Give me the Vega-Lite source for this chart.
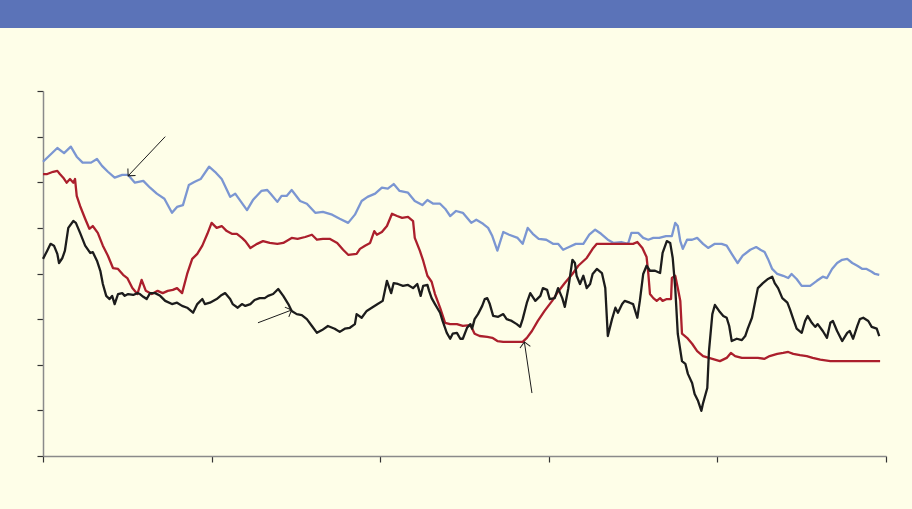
{
  "$schema": "https://vega.github.io/schema/vega-lite/v6.json",
  "background": "#fefee8",
  "padding": {"left": 0, "top": 0, "right": 0, "bottom": 47},
  "config": {"view": {"stroke": null}},
  "spacing": 62,
  "datasets": {
    "lines": [
      {"s":"A","x":0,"y":6.45},{"s":"A","x":1.7,"y":6.75},{"s":"A","x":2.5,"y":6.64},{"s":"A","x":3.3,"y":6.78},{"s":"A","x":4.0,"y":6.56},{"s":"A","x":4.7,"y":6.43},{"s":"A","x":5.7,"y":6.43},{"s":"A","x":6.4,"y":6.51},{"s":"A","x":7.0,"y":6.36},{"s":"A","x":7.7,"y":6.23},{"s":"A","x":8.5,"y":6.10},{"s":"A","x":9.4,"y":6.16},{"s":"A","x":10.1,"y":6.16},{"s":"A","x":10.9,"y":5.99},{"s":"A","x":11.9,"y":6.03},{"s":"A","x":12.7,"y":5.88},{"s":"A","x":13.5,"y":5.75},{"s":"A","x":14.4,"y":5.64},{"s":"A","x":15.3,"y":5.33},{"s":"A","x":15.9,"y":5.46},{"s":"A","x":16.6,"y":5.50},{"s":"A","x":17.3,"y":5.94},{"s":"A","x":18.0,"y":6.01},{"s":"A","x":18.7,"y":6.07},{"s":"A","x":19.7,"y":6.34},{"s":"A","x":20.4,"y":6.23},{"s":"A","x":21.2,"y":6.07},{"s":"A","x":22.2,"y":5.68},{"s":"A","x":22.8,"y":5.75},{"s":"A","x":23.5,"y":5.57},{"s":"A","x":24.2,"y":5.39},{"s":"A","x":24.9,"y":5.61},{"s":"A","x":25.9,"y":5.81},{"s":"A","x":26.6,"y":5.83},{"s":"A","x":27.0,"y":5.75},{"s":"A","x":27.8,"y":5.57},{"s":"A","x":28.3,"y":5.70},{"s":"A","x":28.9,"y":5.70},{"s":"A","x":29.5,"y":5.83},{"s":"A","x":30.5,"y":5.59},{"s":"A","x":31.3,"y":5.53},{"s":"A","x":32.3,"y":5.33},{"s":"A","x":33.2,"y":5.35},{"s":"A","x":34.3,"y":5.29},{"s":"A","x":35.2,"y":5.20},{"s":"A","x":36.2,"y":5.11},{"s":"A","x":37.0,"y":5.29},{"s":"A","x":37.8,"y":5.59},{"s":"A","x":38.5,"y":5.68},{"s":"A","x":39.4,"y":5.75},{"s":"A","x":40.2,"y":5.88},{"s":"A","x":40.9,"y":5.86},{"s":"A","x":41.6,"y":5.96},{"s":"A","x":42.3,"y":5.81},{"s":"A","x":43.3,"y":5.77},{"s":"A","x":44.1,"y":5.59},{"s":"A","x":45.0,"y":5.50},{"s":"A","x":45.6,"y":5.61},{"s":"A","x":46.3,"y":5.53},{"s":"A","x":47.1,"y":5.53},{"s":"A","x":47.7,"y":5.42},{"s":"A","x":48.3,"y":5.26},{"s":"A","x":49.0,"y":5.37},{"s":"A","x":49.8,"y":5.33},{"s":"A","x":50.8,"y":5.11},{"s":"A","x":51.4,"y":5.18},{"s":"A","x":52.2,"y":5.09},{"s":"A","x":52.8,"y":5.00},{"s":"A","x":53.3,"y":4.82},{"s":"A","x":53.9,"y":4.50},{"s":"A","x":54.6,"y":4.91},{"s":"A","x":55.3,"y":4.85},{"s":"A","x":56.3,"y":4.78},{"s":"A","x":56.9,"y":4.65},{"s":"A","x":57.5,"y":5.00},{"s":"A","x":58.1,"y":4.87},{"s":"A","x":58.8,"y":4.76},{"s":"A","x":59.7,"y":4.74},{"s":"A","x":60.5,"y":4.65},{"s":"A","x":61.1,"y":4.65},{"s":"A","x":61.7,"y":4.52},{"s":"A","x":62.4,"y":4.58},{"s":"A","x":63.2,"y":4.65},{"s":"A","x":64.1,"y":4.65},{"s":"A","x":64.8,"y":4.85},{"s":"A","x":65.5,"y":4.96},{"s":"A","x":66.2,"y":4.87},{"s":"A","x":67.0,"y":4.74},{"s":"A","x":67.7,"y":4.67},{"s":"A","x":68.6,"y":4.69},{"s":"A","x":69.4,"y":4.65},{"s":"A","x":69.8,"y":4.89},{"s":"A","x":70.6,"y":4.89},{"s":"A","x":71.2,"y":4.78},{"s":"A","x":71.8,"y":4.74},{"s":"A","x":72.4,"y":4.78},{"s":"A","x":73.1,"y":4.78},{"s":"A","x":73.9,"y":4.82},{"s":"A","x":74.6,"y":4.82},{"s":"A","x":75.0,"y":5.11},{"s":"A","x":75.3,"y":5.04},{"s":"A","x":75.6,"y":4.71},{"s":"A","x":75.9,"y":4.54},{"s":"A","x":76.4,"y":4.74},{"s":"A","x":77.0,"y":4.74},{"s":"A","x":77.6,"y":4.78},{"s":"A","x":78.3,"y":4.65},{"s":"A","x":78.9,"y":4.56},{"s":"A","x":79.7,"y":4.65},{"s":"A","x":80.5,"y":4.65},{"s":"A","x":81.1,"y":4.61},{"s":"A","x":81.7,"y":4.43},{"s":"A","x":82.4,"y":4.23},{"s":"A","x":83.0,"y":4.39},{"s":"A","x":83.9,"y":4.52},{"s":"A","x":84.6,"y":4.58},{"s":"A","x":85.1,"y":4.52},{"s":"A","x":85.6,"y":4.47},{"s":"A","x":86.0,"y":4.32},{"s":"A","x":86.5,"y":4.10},{"s":"A","x":87.1,"y":3.99},{"s":"A","x":87.8,"y":3.95},{"s":"A","x":88.4,"y":3.90},{"s":"A","x":88.8,"y":3.99},{"s":"A","x":89.4,"y":3.88},{"s":"A","x":90.0,"y":3.73},{"s":"A","x":91.0,"y":3.73},{"s":"A","x":91.8,"y":3.84},{"s":"A","x":92.5,"y":3.93},{"s":"A","x":93.0,"y":3.90},{"s":"A","x":93.6,"y":4.10},{"s":"A","x":94.2,"y":4.23},{"s":"A","x":94.8,"y":4.30},{"s":"A","x":95.4,"y":4.32},{"s":"A","x":96.0,"y":4.23},{"s":"A","x":96.6,"y":4.17},{"s":"A","x":97.2,"y":4.10},{"s":"A","x":97.7,"y":4.10},{"s":"A","x":98.3,"y":4.04},{"s":"A","x":98.7,"y":3.99},{"s":"A","x":99.2,"y":3.97},
      {"s":"B","x":0,"y":6.18},{"s":"B","x":0.5,"y":6.18},{"s":"B","x":1.2,"y":6.23},{"s":"B","x":1.7,"y":6.25},{"s":"B","x":2.0,"y":6.18},{"s":"B","x":2.4,"y":6.10},{"s":"B","x":2.8,"y":5.99},{"s":"B","x":3.2,"y":6.07},{"s":"B","x":3.6,"y":5.99},{"s":"B","x":3.8,"y":6.07},{"s":"B","x":4.0,"y":5.70},{"s":"B","x":4.4,"y":5.48},{"s":"B","x":5.0,"y":5.20},{"s":"B","x":5.5,"y":4.98},{"s":"B","x":5.9,"y":5.04},{"s":"B","x":6.5,"y":4.89},{"s":"B","x":7.1,"y":4.61},{"s":"B","x":7.7,"y":4.39},{"s":"B","x":8.3,"y":4.12},{"s":"B","x":8.9,"y":4.10},{"s":"B","x":9.5,"y":3.97},{"s":"B","x":10.0,"y":3.90},{"s":"B","x":10.6,"y":3.68},{"s":"B","x":11.2,"y":3.55},{"s":"B","x":11.7,"y":3.86},{"s":"B","x":12.2,"y":3.62},{"s":"B","x":12.9,"y":3.55},{"s":"B","x":13.6,"y":3.62},{"s":"B","x":14.2,"y":3.57},{"s":"B","x":14.8,"y":3.62},{"s":"B","x":15.4,"y":3.64},{"s":"B","x":15.9,"y":3.68},{"s":"B","x":16.5,"y":3.57},{"s":"B","x":17.1,"y":3.99},{"s":"B","x":17.7,"y":4.32},{"s":"B","x":18.3,"y":4.43},{"s":"B","x":18.9,"y":4.61},{"s":"B","x":19.5,"y":4.87},{"s":"B","x":20.0,"y":5.11},{"s":"B","x":20.6,"y":5.00},{"s":"B","x":21.2,"y":5.04},{"s":"B","x":21.8,"y":4.93},{"s":"B","x":22.4,"y":4.87},{"s":"B","x":23.0,"y":4.87},{"s":"B","x":23.6,"y":4.78},{"s":"B","x":24.0,"y":4.71},{"s":"B","x":24.6,"y":4.56},{"s":"B","x":25.4,"y":4.65},{"s":"B","x":26.1,"y":4.71},{"s":"B","x":26.9,"y":4.67},{"s":"B","x":27.8,"y":4.65},{"s":"B","x":28.5,"y":4.67},{"s":"B","x":29.5,"y":4.78},{"s":"B","x":30.2,"y":4.76},{"s":"B","x":31.1,"y":4.80},{"s":"B","x":31.9,"y":4.85},{"s":"B","x":32.5,"y":4.74},{"s":"B","x":33.2,"y":4.76},{"s":"B","x":34.0,"y":4.76},{"s":"B","x":34.9,"y":4.67},{"s":"B","x":35.6,"y":4.52},{"s":"B","x":36.2,"y":4.41},{"s":"B","x":37.2,"y":4.43},{"s":"B","x":37.6,"y":4.54},{"s":"B","x":38.2,"y":4.61},{"s":"B","x":38.8,"y":4.67},{"s":"B","x":39.3,"y":4.93},{"s":"B","x":39.6,"y":4.85},{"s":"B","x":40.2,"y":4.91},{"s":"B","x":40.8,"y":5.04},{"s":"B","x":41.4,"y":5.31},{"s":"B","x":42.0,"y":5.26},{"s":"B","x":42.6,"y":5.22},{"s":"B","x":43.3,"y":5.24},{"s":"B","x":43.9,"y":5.15},{"s":"B","x":44.1,"y":4.78},{"s":"B","x":44.7,"y":4.50},{"s":"B","x":45.1,"y":4.28},{"s":"B","x":45.6,"y":3.95},{"s":"B","x":46.1,"y":3.82},{"s":"B","x":46.5,"y":3.55},{"s":"B","x":47.1,"y":3.25},{"s":"B","x":47.7,"y":2.92},{"s":"B","x":48.3,"y":2.89},{"s":"B","x":49.1,"y":2.89},{"s":"B","x":49.8,"y":2.85},{"s":"B","x":50.7,"y":2.87},{"s":"B","x":51.2,"y":2.68},{"s":"B","x":51.8,"y":2.63},{"s":"B","x":52.7,"y":2.61},{"s":"B","x":53.3,"y":2.59},{"s":"B","x":53.9,"y":2.52},{"s":"B","x":54.6,"y":2.50},{"s":"B","x":55.8,"y":2.50},{"s":"B","x":56.9,"y":2.50},{"s":"B","x":57.4,"y":2.59},{"s":"B","x":58.0,"y":2.74},{"s":"B","x":58.7,"y":2.96},{"s":"B","x":59.5,"y":3.18},{"s":"B","x":60.4,"y":3.40},{"s":"B","x":61.1,"y":3.60},{"s":"B","x":61.9,"y":3.79},{"s":"B","x":62.8,"y":3.99},{"s":"B","x":63.5,"y":4.17},{"s":"B","x":64.5,"y":4.34},{"s":"B","x":65.2,"y":4.54},{"s":"B","x":65.7,"y":4.65},{"s":"B","x":66.4,"y":4.65},{"s":"B","x":67.6,"y":4.65},{"s":"B","x":68.8,"y":4.65},{"s":"B","x":70.0,"y":4.65},{"s":"B","x":70.5,"y":4.69},{"s":"B","x":71.1,"y":4.56},{"s":"B","x":71.6,"y":4.36},{"s":"B","x":71.8,"y":4.01},{"s":"B","x":72.0,"y":3.55},{"s":"B","x":72.4,"y":3.46},{"s":"B","x":72.8,"y":3.40},{"s":"B","x":73.2,"y":3.46},{"s":"B","x":73.5,"y":3.40},{"s":"B","x":74.0,"y":3.44},{"s":"B","x":74.5,"y":3.44},{"s":"B","x":74.6,"y":3.90},{"s":"B","x":75.0,"y":3.95},{"s":"B","x":75.3,"y":3.68},{"s":"B","x":75.6,"y":3.40},{"s":"B","x":75.8,"y":2.68},{"s":"B","x":76.4,"y":2.59},{"s":"B","x":77.0,"y":2.46},{"s":"B","x":77.6,"y":2.30},{"s":"B","x":78.3,"y":2.19},{"s":"B","x":79.4,"y":2.13},{"s":"B","x":80.3,"y":2.08},{"s":"B","x":81.1,"y":2.15},{"s":"B","x":81.6,"y":2.26},{"s":"B","x":82.1,"y":2.19},{"s":"B","x":82.9,"y":2.15},{"s":"B","x":83.9,"y":2.15},{"s":"B","x":84.8,"y":2.15},{"s":"B","x":85.6,"y":2.13},{"s":"B","x":86.2,"y":2.19},{"s":"B","x":87.1,"y":2.24},{"s":"B","x":87.8,"y":2.26},{"s":"B","x":88.4,"y":2.28},{"s":"B","x":89.0,"y":2.24},{"s":"B","x":89.8,"y":2.21},{"s":"B","x":90.6,"y":2.19},{"s":"B","x":91.3,"y":2.15},{"s":"B","x":92.2,"y":2.11},{"s":"B","x":93.4,"y":2.08},{"s":"B","x":94.9,"y":2.08},{"s":"B","x":96.6,"y":2.08},{"s":"B","x":98.1,"y":2.08},{"s":"B","x":99.3,"y":2.08},
      {"s":"C","x":0,"y":4.32},{"s":"C","x":0.5,"y":4.50},{"s":"C","x":0.9,"y":4.65},{"s":"C","x":1.3,"y":4.61},{"s":"C","x":1.7,"y":4.43},{"s":"C","x":1.9,"y":4.23},{"s":"C","x":2.3,"y":4.34},{"s":"C","x":2.6,"y":4.50},{"s":"C","x":3.0,"y":5.00},{"s":"C","x":3.6,"y":5.15},{"s":"C","x":3.9,"y":5.11},{"s":"C","x":4.4,"y":4.89},{"s":"C","x":5.0,"y":4.61},{"s":"C","x":5.6,"y":4.45},{"s":"C","x":5.9,"y":4.47},{"s":"C","x":6.4,"y":4.28},{"s":"C","x":6.8,"y":4.06},{"s":"C","x":7.1,"y":3.77},{"s":"C","x":7.5,"y":3.51},{"s":"C","x":7.9,"y":3.44},{"s":"C","x":8.2,"y":3.51},{"s":"C","x":8.5,"y":3.33},{"s":"C","x":8.9,"y":3.55},{"s":"C","x":9.4,"y":3.57},{"s":"C","x":9.7,"y":3.51},{"s":"C","x":10.1,"y":3.55},{"s":"C","x":10.7,"y":3.53},{"s":"C","x":11.2,"y":3.57},{"s":"C","x":11.5,"y":3.55},{"s":"C","x":11.9,"y":3.49},{"s":"C","x":12.3,"y":3.44},{"s":"C","x":12.7,"y":3.57},{"s":"C","x":13.3,"y":3.57},{"s":"C","x":13.9,"y":3.51},{"s":"C","x":14.5,"y":3.40},{"s":"C","x":15.3,"y":3.33},{"s":"C","x":15.9,"y":3.36},{"s":"C","x":16.5,"y":3.29},{"s":"C","x":17.1,"y":3.25},{"s":"C","x":17.8,"y":3.14},{"s":"C","x":18.3,"y":3.33},{"s":"C","x":18.9,"y":3.44},{"s":"C","x":19.2,"y":3.33},{"s":"C","x":19.8,"y":3.36},{"s":"C","x":20.6,"y":3.44},{"s":"C","x":21.2,"y":3.53},{"s":"C","x":21.6,"y":3.57},{"s":"C","x":22.2,"y":3.44},{"s":"C","x":22.5,"y":3.33},{"s":"C","x":23.1,"y":3.25},{"s":"C","x":23.6,"y":3.33},{"s":"C","x":24.0,"y":3.29},{"s":"C","x":24.6,"y":3.33},{"s":"C","x":25.1,"y":3.42},{"s":"C","x":25.7,"y":3.46},{"s":"C","x":26.3,"y":3.46},{"s":"C","x":26.7,"y":3.51},{"s":"C","x":27.3,"y":3.55},{"s":"C","x":27.9,"y":3.66},{"s":"C","x":28.5,"y":3.51},{"s":"C","x":29.1,"y":3.33},{"s":"C","x":29.5,"y":3.18},{"s":"C","x":30.1,"y":3.11},{"s":"C","x":30.7,"y":3.09},{"s":"C","x":31.3,"y":3.00},{"s":"C","x":31.9,"y":2.85},{"s":"C","x":32.5,"y":2.70},{"s":"C","x":33.1,"y":2.76},{"s":"C","x":33.8,"y":2.85},{"s":"C","x":34.6,"y":2.79},{"s":"C","x":35.2,"y":2.72},{"s":"C","x":35.8,"y":2.79},{"s":"C","x":36.4,"y":2.81},{"s":"C","x":37.0,"y":2.89},{"s":"C","x":37.2,"y":3.11},{"s":"C","x":37.8,"y":3.03},{"s":"C","x":38.4,"y":3.18},{"s":"C","x":39.0,"y":3.25},{"s":"C","x":39.7,"y":3.33},{"s":"C","x":40.3,"y":3.40},{"s":"C","x":40.8,"y":3.84},{"s":"C","x":41.3,"y":3.57},{"s":"C","x":41.6,"y":3.79},{"s":"C","x":42.1,"y":3.77},{"s":"C","x":42.7,"y":3.73},{"s":"C","x":43.3,"y":3.75},{"s":"C","x":43.9,"y":3.68},{"s":"C","x":44.4,"y":3.77},{"s":"C","x":44.8,"y":3.51},{"s":"C","x":45.1,"y":3.73},{"s":"C","x":45.6,"y":3.75},{"s":"C","x":45.8,"y":3.62},{"s":"C","x":46.1,"y":3.46},{"s":"C","x":46.5,"y":3.33},{"s":"C","x":47.1,"y":3.14},{"s":"C","x":47.4,"y":2.96},{"s":"C","x":47.9,"y":2.70},{"s":"C","x":48.3,"y":2.57},{"s":"C","x":48.6,"y":2.68},{"s":"C","x":49.1,"y":2.70},{"s":"C","x":49.5,"y":2.57},{"s":"C","x":49.8,"y":2.57},{"s":"C","x":50.3,"y":2.81},{"s":"C","x":50.7,"y":2.89},{"s":"C","x":50.9,"y":2.79},{"s":"C","x":51.2,"y":3.00},{"s":"C","x":51.6,"y":3.11},{"s":"C","x":52.1,"y":3.29},{"s":"C","x":52.4,"y":3.44},{"s":"C","x":52.7,"y":3.46},{"s":"C","x":53.0,"y":3.33},{"s":"C","x":53.4,"y":3.07},{"s":"C","x":54.0,"y":3.05},{"s":"C","x":54.6,"y":3.11},{"s":"C","x":55.0,"y":3.00},{"s":"C","x":55.6,"y":2.96},{"s":"C","x":56.2,"y":2.89},{"s":"C","x":56.6,"y":2.83},{"s":"C","x":56.9,"y":3.00},{"s":"C","x":57.4,"y":3.36},{"s":"C","x":57.8,"y":3.57},{"s":"C","x":58.4,"y":3.40},{"s":"C","x":59.0,"y":3.51},{"s":"C","x":59.3,"y":3.68},{"s":"C","x":59.8,"y":3.64},{"s":"C","x":60.1,"y":3.44},{"s":"C","x":60.7,"y":3.46},{"s":"C","x":61.1,"y":3.68},{"s":"C","x":61.6,"y":3.46},{"s":"C","x":61.9,"y":3.27},{"s":"C","x":62.3,"y":3.66},{"s":"C","x":62.8,"y":4.30},{"s":"C","x":63.1,"y":4.23},{"s":"C","x":63.3,"y":3.95},{"s":"C","x":63.7,"y":3.77},{"s":"C","x":64.1,"y":3.95},{"s":"C","x":64.5,"y":3.68},{"s":"C","x":64.9,"y":3.77},{"s":"C","x":65.2,"y":3.99},{"s":"C","x":65.7,"y":4.10},{"s":"C","x":66.3,"y":4.01},{"s":"C","x":66.7,"y":3.68},{"s":"C","x":67.0,"y":2.63},{"s":"C","x":67.5,"y":3.00},{"s":"C","x":67.9,"y":3.25},{"s":"C","x":68.2,"y":3.14},{"s":"C","x":68.7,"y":3.33},{"s":"C","x":69.0,"y":3.40},{"s":"C","x":69.6,"y":3.36},{"s":"C","x":70.0,"y":3.33},{"s":"C","x":70.5,"y":3.03},{"s":"C","x":70.8,"y":3.40},{"s":"C","x":71.2,"y":3.99},{"s":"C","x":71.6,"y":4.17},{"s":"C","x":72.0,"y":4.06},{"s":"C","x":72.6,"y":4.06},{"s":"C","x":73.2,"y":4.01},{"s":"C","x":73.5,"y":4.45},{"s":"C","x":74.0,"y":4.71},{"s":"C","x":74.4,"y":4.67},{"s":"C","x":74.7,"y":4.34},{"s":"C","x":75.0,"y":3.68},{"s":"C","x":75.3,"y":2.68},{"s":"C","x":75.8,"y":2.08},{"s":"C","x":76.2,"y":2.02},{"s":"C","x":76.5,"y":1.80},{"s":"C","x":77.0,"y":1.60},{"s":"C","x":77.3,"y":1.36},{"s":"C","x":77.7,"y":1.21},{"s":"C","x":78.1,"y":0.99},{"s":"C","x":78.3,"y":1.16},{"s":"C","x":78.8,"y":1.49},{"s":"C","x":79.0,"y":2.30},{"s":"C","x":79.4,"y":3.11},{"s":"C","x":79.7,"y":3.31},{"s":"C","x":80.2,"y":3.18},{"s":"C","x":80.7,"y":3.07},{"s":"C","x":81.1,"y":3.03},{"s":"C","x":81.4,"y":2.85},{"s":"C","x":81.7,"y":2.52},{"s":"C","x":82.3,"y":2.57},{"s":"C","x":82.9,"y":2.54},{"s":"C","x":83.3,"y":2.63},{"s":"C","x":83.6,"y":2.79},{"s":"C","x":84.1,"y":3.03},{"s":"C","x":84.5,"y":3.40},{"s":"C","x":84.8,"y":3.68},{"s":"C","x":85.4,"y":3.79},{"s":"C","x":86.0,"y":3.88},{"s":"C","x":86.5,"y":3.93},{"s":"C","x":86.8,"y":3.79},{"s":"C","x":87.2,"y":3.68},{"s":"C","x":87.7,"y":3.46},{"s":"C","x":88.3,"y":3.36},{"s":"C","x":88.6,"y":3.22},{"s":"C","x":89.0,"y":3.00},{"s":"C","x":89.4,"y":2.79},{"s":"C","x":90.0,"y":2.70},{"s":"C","x":90.4,"y":2.96},{"s":"C","x":90.7,"y":3.07},{"s":"C","x":91.2,"y":2.92},{"s":"C","x":91.6,"y":2.83},{"s":"C","x":91.9,"y":2.89},{"s":"C","x":92.5,"y":2.74},{"s":"C","x":93.0,"y":2.59},{"s":"C","x":93.4,"y":2.92},{"s":"C","x":93.7,"y":2.96},{"s":"C","x":94.2,"y":2.74},{"s":"C","x":94.8,"y":2.52},{"s":"C","x":95.4,"y":2.70},{"s":"C","x":95.7,"y":2.74},{"s":"C","x":96.1,"y":2.57},{"s":"C","x":96.6,"y":2.85},{"s":"C","x":96.9,"y":3.00},{"s":"C","x":97.3,"y":3.03},{"s":"C","x":97.9,"y":2.96},{"s":"C","x":98.3,"y":2.83},{"s":"C","x":98.9,"y":2.79},{"s":"C","x":99.2,"y":2.63}
    ],
    "arrows": [
      {"id": 1, "x": 14.5, "y": 7.0, "x2": 10.1, "y2": 6.14},
      {"id": 2, "x": 25.5, "y": 2.92, "x2": 29.5, "y2": 3.2},
      {"id": 3, "x": 58.0, "y": 1.38, "x2": 57.1, "y2": 2.5}
    ],
    "band": [{"part": "header"}]
  },
  "vconcat": [
    {
      "width": 912,
      "height": 28,
      "data": {"name": "band"},
      "mark": {"type": "rect", "fill": "#5b73b8"},
      "encoding": {}
    },
    {
      "width": 886,
      "height": 365,
      "encoding": {
        "x": {
          "field": "x", "type": "quantitative",
          "scale": {"domain": [0, 100], "range": [43, 886], "nice": false, "zero": false},
          "axis": {"values": [0, 20, 40, 60, 80, 100], "labels": false, "title": null, "grid": false, "tickSize": 6, "tickColor": "#333333", "domainColor": "#8a8a8a", "domainWidth": 1.5, "tickWidth": 1.2}
        },
        "y": {
          "field": "y", "type": "quantitative",
          "scale": {"domain": [0, 8], "nice": false, "zero": false},
          "axis": {"values": [0, 1, 2, 3, 4, 5, 6, 7, 8], "labels": false, "title": null, "offset": -43, "grid": false, "tickSize": 6, "tickColor": "#333333", "domainColor": "#8a8a8a", "domainWidth": 1.5, "tickWidth": 1.2}
        }
      },
      "layer": [
        {
          "data": {"name": "lines"},
          "mark": {"type": "line", "strokeWidth": 2.3, "strokeJoin": "round"},
          "encoding": {
            "color": {"field": "s", "type": "nominal", "scale": {"domain": ["A", "B", "C"], "range": ["#7b96d2", "#ab1f2c", "#1c1c1c"]}, "legend": null},
            "order": {"field": "x", "type": "quantitative"}
          }
        },
        {
          "data": {"name": "arrows"},
          "mark": {"type": "rule", "color": "#1c1c1c", "strokeWidth": 1},
          "encoding": {"x2": {"field": "x2"}, "y2": {"field": "y2"}}
        },
        {
          "data": {"name": "arrows"},
          "transform": [{"filter": "datum.id == 1"}],
          "mark": {"type": "point", "shape": "M-1,1L0,0L1,1", "filled": false, "color": "#1c1c1c", "strokeWidth": 1, "size": 110, "angle": 223, "opacity": 1},
          "encoding": {"x": {"field": "x2", "type": "quantitative"}, "y": {"field": "y2", "type": "quantitative"}}
        },
        {
          "data": {"name": "arrows"},
          "transform": [{"filter": "datum.id == 2"}],
          "mark": {"type": "point", "shape": "M-1,1L0,0L1,1", "filled": false, "color": "#1c1c1c", "strokeWidth": 1, "size": 110, "angle": 68, "opacity": 1},
          "encoding": {"x": {"field": "x2", "type": "quantitative"}, "y": {"field": "y2", "type": "quantitative"}}
        },
        {
          "data": {"name": "arrows"},
          "transform": [{"filter": "datum.id == 3"}],
          "mark": {"type": "point", "shape": "M-1,1L0,0L1,1", "filled": false, "color": "#1c1c1c", "strokeWidth": 1, "size": 110, "angle": 351, "opacity": 1},
          "encoding": {"x": {"field": "x2", "type": "quantitative"}, "y": {"field": "y2", "type": "quantitative"}}
        }
      ]
    }
  ]
}
